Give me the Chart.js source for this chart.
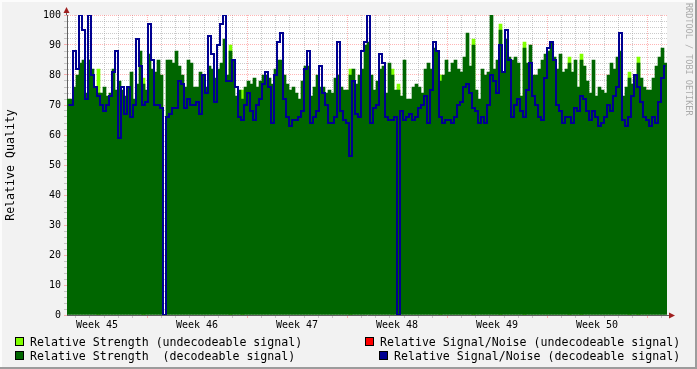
<!DOCTYPE html>
<html><head><meta charset="utf-8">
<script src="https://cdn.jsdelivr.net/npm/chart.js@4/dist/chart.umd.min.js"></script>
<style>html,body{margin:0;padding:0;background:#f2f2f2;overflow:hidden}canvas{display:block}</style>
</head><body><canvas id="c" width="697" height="369"></canvas>
<script>
// ---- data (one sample per ~3 px column of the original RRD graph) ----
const weekLabels = ['Week 45','Week 46','Week 47','Week 48','Week 49','Week 50'];
const weekCenters = [3.5, 10.5, 17.5, 24.5, 31.5, 38.5];   // in days from start of week 45
const axisRangeDays = [1.4, 43.4];
const yRange = [0, 100];

const strengthDecodeable = [
  72,72,76,80,84,85,74,85,82,76, 74,74,76,73,74,82,75,78,75,73, 76,81,72,77,88,77,75,87,82,81, 85,80,0,
  85,85,84,88,83,80,76,85,84,76, 76,81,80,76,83,82,79,82,84,92, 80,88,85,73,75,72,76,78,77,79, 76,78,80,80,
  79,77,82,85,85,80,77,75,76,74, 72,78,83,83,73,76,80,76,76,74, 75,74,79,80,76,75,75,80,82,77, 80,82,90,91,
  80,75,78,82,83,74,84,80,75,75, 73,85,72,72,76,77,76,74,82,84, 82,89,88,78,80,85,81,84,85,82, 81,86,94,
  83,90,75,72,82,80,81,100,82,85, 95,81,92,86,85,86,84,73,89,84, 90,80,80,82,85,87,88,91,86,82, 87,81,82,
  84,81,85,76,85,83,78,74,85,73, 76,75,74,80,84,82,86,88,73,76, 79,77,80,84,79,76,75,75,79,83, 86,89,84
];
const snrDecodeable = [
  70,70,88,82,100,95,72,100,80,76, 73,70,68,70,73,81,88,59,76,67, 76,66,70,92,83,70,71,97,85,70, 70,69,0,
  66,67,69,69,78,77,69,72,70,70, 71,67,80,74,93,87,71,90,97,100, 78,78,85,76,66,65,70,74,68,65, 70,72,77,81,
  76,64,80,91,94,72,66,63,65,65, 66,68,82,88,64,66,68,83,74,70, 64,64,66,91,68,65,64,53,78,67, 66,88,91,100,
  64,69,70,87,84,66,65,65,66,0, 68,65,66,67,65,66,69,70,73,64, 75,91,88,66,64,65,65,64,66,70, 71,76,77,
  74,69,68,64,66,64,70,80,78,74, 90,81,95,85,66,70,72,68,66,75, 84,73,70,66,65,79,89,91,85,70, 68,64,66,
  66,64,69,68,73,72,68,65,68,66, 63,64,66,70,68,73,76,94,65,63, 66,73,80,76,71,66,65,63,66,64, 71,79,83
];
// undecodeable strength only shows as small tips above the decodeable area: [sample index, value]
const strengthUndecodeablePoints = [
  [10,82],[25,79],[54,90],[58,75],[94,82],[108,82],[110,77],[124,80],
  [135,92],[144,97],[152,91],[167,86],[171,87],[187,81],[190,86]
];
const legendItems = [
  {text:'Relative Strength (undecodeable signal)', color:'#80ff00'},
  {text:'Relative Signal/Noise (undecodeable signal)', color:'#ff0000'},
  {text:'Relative Strength  (decodeable signal)', color:'#006600'},
  {text:'Relative Signal/Noise (decodeable signal)', color:'#000090'}
];
const yTitle = 'Relative Quality';
const watermark = 'RRDTOOL / TOBI OETIKER';

// ---- build ----
const categories = strengthDecodeable.map((_, i) => String(i));
const strengthUndecodeable = categories.map(() => null);
strengthUndecodeablePoints.forEach(([i, v]) => { strengthUndecodeable[i] = v; });

const MONO = '"DejaVu Sans Mono", monospace';
const MINOR = 'rgba(160,160,160,0.55)';
const MAJOR = 'rgba(255,90,90,0.45)';

const deco = {
  id: 'rrdDeco',
  beforeDraw(chart) {
    const {ctx, chartArea: a, width: W, height: H} = chart;
    ctx.save();
    ctx.fillStyle = '#f2f2f2'; ctx.fillRect(0, 0, W, H);
    ctx.fillStyle = '#fcfcfc'; ctx.fillRect(0, 0, W, 2); ctx.fillRect(0, 0, 2, H);
    ctx.fillStyle = '#9c9c9c'; ctx.fillRect(0, H - 2, W, 2); ctx.fillRect(W - 2, 0, 2, H);
    ctx.fillStyle = '#ffffff'; ctx.fillRect(a.left, a.top, a.right - a.left, a.bottom - a.top);
    ctx.restore();
  },
  afterDraw(chart) {
    const {ctx, chartArea: a} = chart;
    ctx.save();
    // axis extensions + arrows
    ctx.strokeStyle = '#606060'; ctx.lineWidth = 1;
    ctx.beginPath();
    ctx.moveTo(a.left - 0.5, a.top); ctx.lineTo(a.left - 0.5, a.top - 4);
    ctx.moveTo(a.right, a.bottom + 0.5); ctx.lineTo(a.right + 3, a.bottom + 0.5);
    ctx.stroke();
    ctx.fillStyle = '#a02020';
    ctx.beginPath();
    ctx.moveTo(a.left - 0.5, a.top - 8); ctx.lineTo(a.left - 3.5, a.top - 2); ctx.lineTo(a.left + 2.5, a.top - 2); ctx.closePath(); ctx.fill();
    ctx.beginPath();
    ctx.moveTo(a.right + 8, a.bottom + 0.5); ctx.lineTo(a.right + 2, a.bottom - 2.5); ctx.lineTo(a.right + 2, a.bottom + 3.5); ctx.closePath(); ctx.fill();
    // legend
    ctx.font = '11.6px ' + MONO; ctx.textBaseline = 'alphabetic'; ctx.textAlign = 'left';
    const pos = [[15, 337, 30, 345.5], [365, 337, 380, 345.5], [15, 351, 30, 359.5], [379, 351, 394, 359.5]];
    legendItems.forEach((it, k) => {
      const [sx, sy, tx, ty] = pos[k];
      ctx.fillStyle = it.color; ctx.fillRect(sx, sy, 8, 8);
      ctx.strokeStyle = '#000'; ctx.lineWidth = 1; ctx.strokeRect(sx + 0.5, sy + 0.5, 8, 8);
      ctx.fillStyle = '#000'; ctx.fillText(it.text, tx, ty);
    });
    // watermark
    ctx.translate(688, 3); ctx.rotate(Math.PI / 2);
    ctx.font = '8.5px ' + MONO; ctx.fillStyle = '#ababab'; ctx.textBaseline = 'middle';
    ctx.fillText(watermark, 0, 0);
    ctx.restore();
  }
};

new Chart(document.getElementById('c'), {
  type: 'bar',
  data: {
    labels: categories,
    datasets: [
      {type: 'line', label: 'Relative Signal/Noise (decodeable signal)', data: snrDecodeable,
       borderColor: '#000090', borderWidth: 2, pointRadius: 0, stepped: 'middle', fill: false, order: 0, xAxisID: 'x'},
      {label: 'Relative Strength  (decodeable signal)', data: strengthDecodeable, backgroundColor: '#006600',
       grouped: false, categoryPercentage: 1, barPercentage: 1, borderWidth: 0, order: 1, xAxisID: 'x'},
      {label: 'Relative Strength (undecodeable signal)', data: strengthUndecodeable, backgroundColor: '#80ff00',
       grouped: false, categoryPercentage: 1, barPercentage: 1, borderWidth: 0, order: 2, xAxisID: 'x'}
    ]
  },
  options: {
    responsive: false, animation: false, events: [],
    layout: {padding: {top: 15, right: 30, left: 0, bottom: 0}},
    plugins: {legend: {display: false}, tooltip: {enabled: false}},
    scales: {
      x: {type: 'category', display: false, offset: true},
      x2: {
        type: 'linear', position: 'bottom', min: axisRangeDays[0], max: axisRangeDays[1], z: 1,
        offset: false, bounds: 'data',
        afterBuildTicks(axis) {
          const t = [];
          for (let d = Math.ceil(axisRangeDays[0]); d <= Math.floor(axisRangeDays[1]); d++) t.push({value: d});
          weekCenters.forEach(v => t.push({value: v}));
          t.sort((p, q) => p.value - q.value);
          axis.ticks = t;
        },
        afterFit(s) { s.height = 54; },
        grid: {
          offset: false, drawOnChartArea: true, drawTicks: true, tickLength: 3, lineWidth: 1,
          color: c => { const v = c.tick && c.tick.value; if (v === undefined) return 'transparent';
            if (!Number.isInteger(v)) return 'transparent'; return v % 7 === 0 ? MAJOR : MINOR; }
        },
        border: {display: true, color: '#606060', width: 1, dash: [1, 1]},
        ticks: {
          autoSkip: false, maxRotation: 0, padding: 1, color: '#000', font: {family: MONO, size: 10},
          callback: v => { const k = weekCenters.indexOf(v); return k >= 0 ? weekLabels[k] : ''; }
        }
      },
      y: {
        min: yRange[0], max: yRange[1], z: 1,
        afterFit(s) { s.width = 67; },
        title: {display: true, text: yTitle, color: '#000', font: {family: MONO, size: 11.6}, padding: {top: 4, bottom: 0}},
        grid: {
          drawTicks: true, tickLength: 3, lineWidth: 1,
          color: c => { const v = c.tick && c.tick.value; if (v === undefined) return 'transparent';
            return v % 10 === 0 ? MAJOR : MINOR; }
        },
        border: {display: true, color: '#606060', width: 1, dash: [1, 1]},
        ticks: {
          stepSize: 2, autoSkip: false, padding: 3, color: '#000', font: {family: MONO, size: 10},
          callback: v => (v % 10 === 0 ? String(v) : '')
        }
      }
    }
  },
  plugins: [deco]
});
</script></body></html>
